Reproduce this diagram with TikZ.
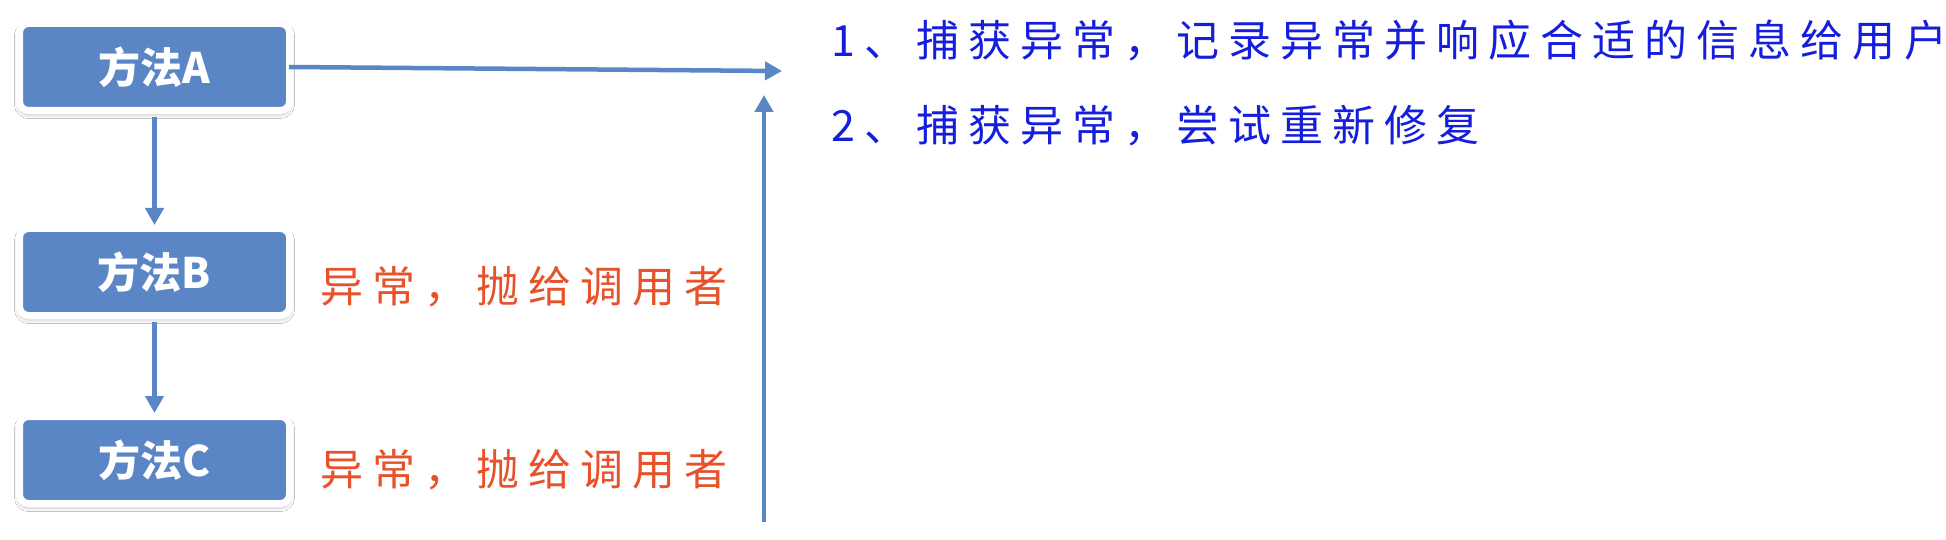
\documentclass[tikz,border=0pt]{standalone}
\usepackage{fontspec}
\setmainfont{Noto Sans CJK SC}
\newfontfamily\cjk{Noto Sans CJK SC}
\newfontfamily\cjkspaced[LetterSpace=21]{Noto Sans CJK SC}
\usetikzlibrary{arrows.meta,shadows.blur}
\definecolor{boxblue}{RGB}{91,134,198}
\definecolor{txtblue}{RGB}{22,30,222}
\definecolor{txtred}{RGB}{232,82,42}
\tikzset{
  method/.style={draw=white, line width=7pt, fill=boxblue, rounded corners=9pt,
    minimum width=270pt, minimum height=87pt, inner sep=0pt,
    font=\cjk\bfseries\fontsize{42pt}{46pt}\selectfont, text=white,
    blur shadow={shadow xshift=0pt, shadow yshift=-3pt, shadow blur radius=5pt, shadow opacity=35}},
  flow/.style={draw=boxblue, line width=4.5pt, -{Triangle[length=17pt,width=18pt]}},
  note/.style={anchor=west, inner sep=0pt, font=\cjkspaced\fontsize{43pt}{48pt}\selectfont},
}
\begin{document}
\begin{tikzpicture}[x=1pt,y=-1pt]
\useasboundingbox (0,0) rectangle (1946,540);
\fill[white] (0,0) rectangle (1946,540);
\node[method] (A) at (154.5,67) {方法A};
\node[method] (B) at (154.5,272) {方法B};
\node[method] (C) at (154.5,460) {方法C};
\draw[flow, shorten <=3pt] (A.south) -- (B.north);
\draw[flow, shorten <=3pt] (B.south) -- (C.north);
\coordinate (htip) at (782,71);
\coordinate (vbot) at (764,522);
\coordinate (vtip) at (764,95);
\draw[flow] ([xshift=-4pt]A.east) -- (htip);
\draw[flow] (vbot) -- (vtip);
\node[note, text=txtred] (rb) at (320,287) {异常，抛给调用者};
\node[note, text=txtred] (rc) at (320,470) {异常，抛给调用者};
\node[note, text=txtblue] (t1) at (831,41) {1、捕获异常，记录异常并响应合适的信息给用户};
\node[note, text=txtblue] (t2) at (831,126) {2、捕获异常，尝试重新修复};
\end{tikzpicture}
\end{document}
